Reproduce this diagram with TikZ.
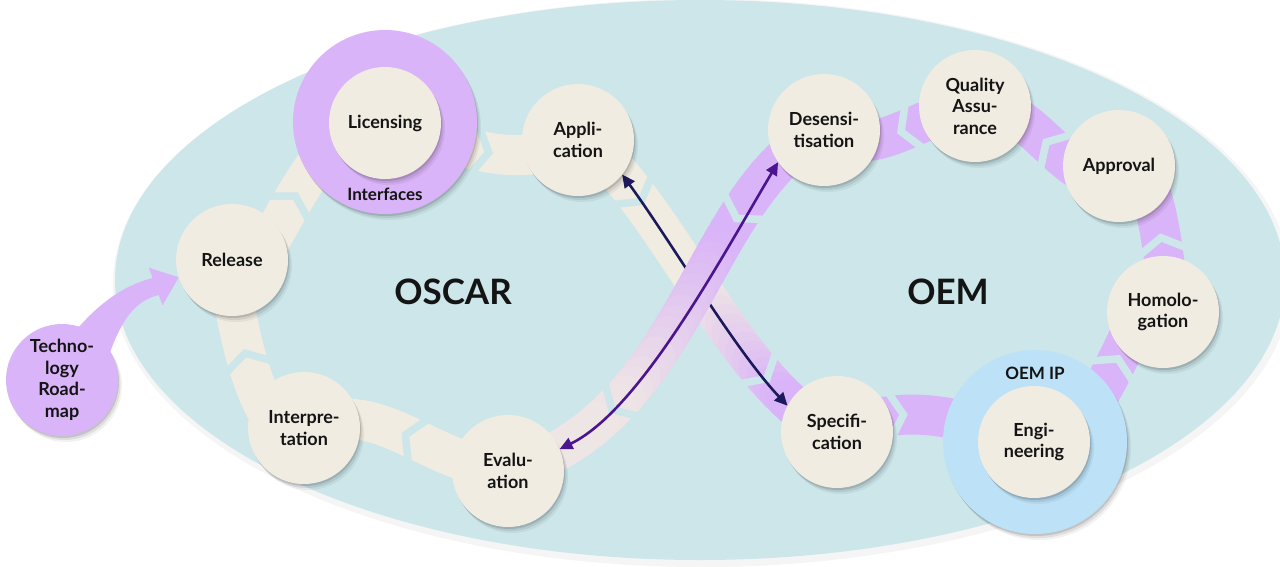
\documentclass[tikz,border=0pt]{standalone}
\usepackage{fontspec}
\setmainfont{Lato}
\usetikzlibrary{decorations.markings,shadows,arrows.meta,calc}
\definecolor{teal0}{HTML}{CCE6EA}
\definecolor{cream}{HTML}{F1ECE2}
\definecolor{lilac}{HTML}{DAB4F8}
\definecolor{skyb}{HTML}{BDE2F8}
\definecolor{navy}{HTML}{1C1A5C}
\definecolor{indig}{HTML}{4B1590}
\definecolor{ink}{HTML}{141414}
\newcommand\lblfont{\fontsize{18}{21.5}\selectfont\bfseries}
\newcommand\gapV{\draw[teal0, line width=7.5pt, line join=miter] (-14pt,-27pt) -- (2pt,0pt) -- (-14pt,27pt);}
\pgfdeclarelayer{back}
\pgfdeclarelayer{bands}
\pgfsetlayers{back,bands,main}
\begin{document}
\begin{tikzpicture}[x=1pt,y=-1pt,
  soft/.style={drop shadow={shadow xshift=1pt, shadow yshift=-2pt, opacity=0.12, fill=black},
               drop shadow={shadow xshift=2.5pt, shadow yshift=-4pt, opacity=0.08, fill=black},
               drop shadow={shadow xshift=4pt, shadow yshift=-6pt, opacity=0.05, fill=black}},
  circ/.style={circle, fill=cream, minimum size=112pt, inner sep=0pt, outer sep=0pt, align=center, text=ink, font=\lblfont, soft},
  ring/.style={circle, minimum size=184pt, inner sep=0pt, outer sep=0pt, soft},
  cband/.style={draw=cream, line width=40pt},
  pband/.style={draw=lilac, line width=40pt},
  piece/.style={line width=40pt, line cap=round},
  gap/.style={postaction={decorate, decoration={markings, mark=at position #1 with {\gapV}}}},
  link/.style={line width=2.6pt, {Triangle[length=13pt,width=12pt]}-{Triangle[length=13pt,width=12pt]}},
  big/.style={font=\fontsize{35}{40}\selectfont\bfseries, text=ink},
  lbl/.style={font=\fontsize{17}{20}\selectfont\bfseries, text=ink}
]
\useasboundingbox (0,0) rectangle (1280,566);
\begin{pgfonlayer}{back}
  \fill[white] (0,0) rectangle (1280,566);
  \fill[black, opacity=0.04] (702,283) ellipse [x radius=589pt, y radius=284pt];
  \fill[teal0] (700,280) ellipse [x radius=585pt, y radius=280pt];
\end{pgfonlayer}

% rings
\node[ring, fill=lilac] (ifc) at (385,122) {};
\node[ring, fill=skyb] (oip) at (1035,442) {};
% process nodes
\node[circ] (Li) at (385,123) {Licensing};
\node[circ] (En) at (1034,442) {Engi-\\neering};
\node[circ] (Re) at (232,260) {Release};
\node[circ] (Ap) at (578,140) {Appli-\\cation};
\node[circ] (In) at (304,428) {Interpre-\\tation};
\node[circ] (Ev) at (508,471) {Evalu-\\ation};
\node[circ] (De) at (824,130) {Desensi-\\tisation};
\node[circ] (QA) at (975,106) {Quality\\Assu-\\rance};
\node[circ] (Ar) at (1119,166) {Approval};
\node[circ] (Ho) at (1163,312) {Homolo-\\gation};
\node[circ] (Sp) at (837,432) {Specifi-\\cation};
\node[circ, fill=lilac] (tech) at (62,380) {Techno-\\logy\\Road-\\map};
% labels
\node[lbl] (ifl) at (385,194) {Interfaces};
\node[lbl] (oipl) at (1035,373) {OEM IP};
\node[big] (oscar) at (453,292) {OSCAR};
\node[big] (oem) at (948,292) {OEM};

\begin{pgfonlayer}{bands}
  % OSCAR loop
  \draw[cband, gap=0.5] (Ev.center) to[out=175,in=25] (In.center);
  \draw[cband, gap=0.47] (In.center) to[out=213,in=102] (Re.center);
  \draw[cband, gap=0.48] (Re.center) to[out=282,in=165] (Li.center);
  \draw[cband, gap=0.53] (Li.center) to[out=345,in=207] (Ap.center);
  % OEM loop
  \draw[pband, gap=0.33] (Sp.center) to[out=25,in=162] (En.center);
  \draw[pband, gap=0.58] (En.center) to[out=342,in=103] (Ho.center);
  \draw[pband, gap=0.48] (Ho.center) to[out=283,in=44] (Ar.center);
  \draw[pband, gap=0.5] (Ar.center) to[out=224,in=8] (QA.center);
  \draw[pband, gap=0.48] (QA.center) to[out=188,in=326] (De.center);
  % crossing: Application -> Specification (cream fading to lilac)
  \path (Ap.center) .. controls (650,170) and (740,400) .. (Sp.center)
    \foreach \i in {0,...,40} {coordinate[pos=\i/40] (aq\i)};
  \foreach \i in {0,...,39} {
    \pgfmathsetmacro\t{\i/40+0.0125}
    \pgfmathtruncatemacro\p{\t<0.5 ? 0 : (\t<0.82 ? (\t-0.5)*312 : 100)}
    \pgfmathtruncatemacro\j{\i+1}
    \draw[piece, draw=lilac!\p!cream] (aq\i) -- (aq\j);
  }
  \path[gap=0.22, gap=0.77] (Ap.center) .. controls (650,170) and (740,400) .. (Sp.center);
  \draw[navy, link] (Ap.-38) .. controls (670,240) and (735,350) .. (Sp.152);
  % crossing: Desensitisation -> Evaluation (lilac fading to cream)
  \path (De.center) .. controls (700,190) and (690,420) .. (Ev.center)
    \foreach \i in {0,...,40} {coordinate[pos=\i/40] (dq\i)};
  \foreach \i in {0,...,39} {
    \pgfmathsetmacro\t{\i/40+0.0125}
    \pgfmathtruncatemacro\p{\t<0.38 ? 100 : (\t<0.75 ? 100-(\t-0.38)*230 : 15-(\t-0.75)*20)}
    \pgfmathtruncatemacro\j{\i+1}
    \draw[piece, draw=lilac!\p!cream] (dq\i) -- (dq\j);
  }
  \path[gap=0.26, gap=0.74] (De.center) .. controls (700,190) and (690,420) .. (Ev.center);
  \draw[indig, link] (Ev.23) .. controls (640,410) and (720,260) .. (De.215);
  % technology roadmap arrow (broad curved arrow into Release)
  \coordinate (tip) at (Re.198);
  \fill[lilac] ($(tech.center)!0.9!(tech.75)$) .. controls (100,302) and (125,285) .. (152.6,278)
     -- (148.9,267.7) -- (tip) -- (162.5,305.3) -- (158.8,295)
     .. controls (135,301) and (122,318) .. ($(tech.center)!0.9!(tech.25)$) -- (tech.center) -- cycle;
\end{pgfonlayer}
\end{tikzpicture}
\end{document}
